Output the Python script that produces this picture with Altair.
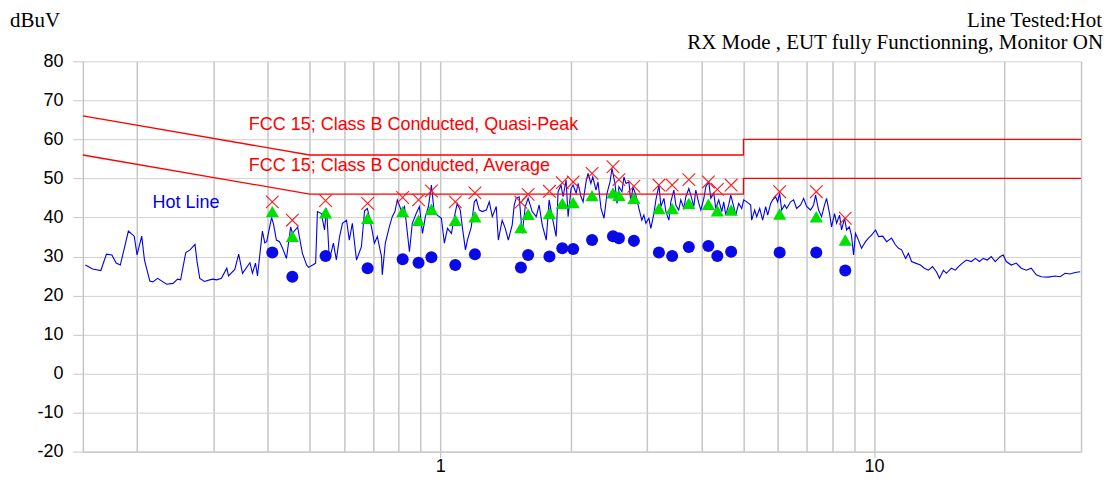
import altair as alt
import pandas as pd

SANS = "Liberation Sans"
SERIF = "Liberation Serif"

# ---- Measured trace (MHz, dBuV) ----
trace_freq = [
    0.152, 0.158, 0.165, 0.170, 0.175, 0.179, 0.183, 0.191, 0.197, 0.200,
    0.205, 0.208, 0.214, 0.2175, 0.223, 0.234, 0.242, 0.248, 0.252, 0.259,
    0.265, 0.272, 0.275, 0.279, 0.286, 0.294, 0.299, 0.305, 0.313, 0.322,
    0.325, 0.336, 0.343, 0.350, 0.364, 0.369, 0.375, 0.379, 0.389, 0.394,
    0.398, 0.4085, 0.413, 0.419, 0.426, 0.433, 0.442, 0.452, 0.456, 0.469,
    0.481, 0.492, 0.497, 0.508, 0.516, 0.521, 0.532, 0.541, 0.547, 0.555,
    0.567, 0.576, 0.586, 0.595, 0.608, 0.617, 0.627, 0.641, 0.658, 0.669,
    0.679, 0.694, 0.705, 0.716, 0.732, 0.735, 0.747, 0.763, 0.775, 0.786,
    0.796, 0.815, 0.827, 0.840, 0.849, 0.862, 0.880, 0.895, 0.910, 0.924,
    0.939, 0.954, 0.969, 0.984, 1.006, 1.022, 1.039, 1.061, 1.078, 1.094,
    1.112, 1.124, 1.143, 1.155, 1.179, 1.198, 1.211, 1.230, 1.250, 1.277,
    1.297, 1.318, 1.346, 1.361, 1.389, 1.412, 1.435, 1.465, 1.481, 1.496,
    1.520, 1.545, 1.570, 1.594, 1.629, 1.664, 1.690, 1.718, 1.755, 1.782,
    1.811, 1.850, 1.869, 1.898, 1.919, 1.950, 1.971, 2.002, 2.024, 2.057,
    2.078, 2.111, 2.134, 2.168, 2.191, 2.224, 2.247, 2.285, 2.310, 2.347,
    2.385, 2.423, 2.462, 2.488, 2.528, 2.555, 2.581, 2.623, 2.651, 2.679,
    2.722, 2.751, 2.780, 2.824, 2.870, 2.915, 2.947, 2.978, 3.026, 3.058,
    3.107, 3.141, 3.192, 3.226, 3.278, 3.312, 3.365, 3.400, 3.455, 3.491,
    3.545, 3.585, 3.643, 3.682, 3.741, 3.780, 3.841, 3.882, 3.945, 3.987,
    4.051, 4.094, 4.159, 4.202, 4.270, 4.316, 4.384, 4.455, 4.502, 4.550,
    4.622, 4.673, 4.748, 4.798, 4.874, 4.953, 5.006, 5.086, 5.195, 5.222,
    5.306, 5.363, 5.449, 5.535, 5.624, 5.685, 5.776, 5.838, 5.931, 5.994,
    6.058, 6.123, 6.220, 6.287, 6.421, 6.524, 6.629, 6.771, 6.881, 6.990,
    7.138, 7.254, 7.331, 7.448, 7.568, 7.688, 7.771, 7.896, 7.979, 8.109,
    8.196, 8.326, 8.414, 8.550, 8.641, 8.768, 8.867, 8.967, 9.062, 9.205,
    9.355, 9.555, 9.705, 9.863, 10.08, 10.24, 10.47, 10.69, 10.97, 11.20,
    11.39, 11.57, 11.82, 12.00, 12.20, 12.46, 12.79, 13.06, 13.35, 13.64,
    13.92, 14.15, 14.45, 14.68, 15.07, 15.40, 15.65, 15.98, 16.32, 16.76,
    17.12, 17.49, 17.86, 18.24, 18.63, 19.02, 19.54, 19.85, 20.17, 20.72,
    21.27, 21.84, 22.43, 23.03, 23.65, 24.28, 25.20, 26.13, 26.85, 27.56,
    28.30, 29.06, 29.86,
]
trace_level = [
    27.8, 26.8, 26.4, 30.6, 30.4, 28.3, 27.8, 36.5, 35.2, 30.4,
    35.2, 29.1, 23.7, 23.5, 24.4, 22.9, 23.1, 24.2, 24.0, 31.0,
    31.7, 33.1, 28.7, 24.4, 23.6, 24.0, 24.2, 24.0, 24.4, 27.0,
    25.0, 26.7, 30.6, 25.7, 28.4, 25.7, 28.3, 25.0, 36.5, 33.5,
    33.8, 40.0, 38.1, 34.2, 33.8, 32.1, 29.5, 37.6, 35.9, 37.5,
    30.8, 27.8, 27.2, 27.8, 28.3, 41.5, 41.0, 36.8, 42.3, 29.1,
    33.4, 29.1, 35.1, 38.5, 39.3, 34.2, 38.5, 29.1, 32.5, 41.7,
    42.3, 37.6, 33.4, 35.1, 30.0, 25.3, 33.4, 37.6, 40.2, 41.5,
    44.5, 41.5, 42.8, 35.9, 31.2, 38.5, 41.0, 42.8, 35.9, 40.2,
    42.8, 48.3, 41.0, 40.6, 39.8, 33.4, 37.2, 35.9, 40.2, 43.6,
    41.9, 37.6, 31.7, 34.2, 37.6, 44.0, 44.6, 41.9, 41.5, 41.9,
    44.0, 40.2, 42.8, 34.2, 39.3, 37.2, 34.2, 38.1, 43.2, 44.9,
    45.3, 35.9, 42.8, 44.9, 41.5, 40.2, 43.2, 38.1, 34.2, 44.5,
    40.2, 35.1, 46.6, 48.3, 45.3, 49.6, 40.2, 47.4, 48.3, 46.2,
    48.7, 45.3, 44.0, 49.1, 51.3, 48.7, 50.4, 47.0, 49.1, 42.3,
    39.8, 46.2, 49.1, 52.6, 48.7, 43.6, 47.9, 46.6, 50.4, 48.7,
    49.1, 43.6, 47.9, 45.7, 42.3, 39.3, 40.6, 38.5, 39.8, 37.2,
    41.0, 44.5, 48.3, 42.8, 44.9, 41.5, 39.3, 44.0, 47.0, 43.2,
    41.9, 44.5, 42.3, 45.3, 47.4, 45.7, 42.8, 47.0, 43.6, 41.9,
    44.9, 47.9, 49.1, 44.9, 46.2, 42.3, 44.5, 41.5, 44.0, 40.6,
    43.2, 45.7, 42.8, 40.6, 43.6, 42.3, 44.5, 44.0, 43.2, 39.3,
    41.9, 40.2, 42.3, 39.3, 42.8, 40.6, 43.6, 44.5, 45.3, 44.0,
    46.2, 41.9, 43.2, 42.3, 44.0, 44.5, 42.3, 43.2, 44.9, 42.8,
    41.9, 43.2, 45.7, 41.9, 40.2, 43.2, 44.9, 41.0, 37.6, 41.0,
    38.5, 40.6, 36.8, 39.8, 36.8, 37.6, 35.5, 30.4, 35.9, 34.2,
    32.1, 33.8, 34.7, 35.5, 36.8, 35.1, 35.2, 33.8, 34.7, 33.0,
    32.1, 31.7, 29.5, 30.8, 28.7, 28.3, 27.8, 27.0, 26.5, 27.4,
    26.1, 24.4, 26.5, 25.7, 27.0, 26.5, 27.4, 28.3, 29.1, 28.7,
    29.5, 28.7, 29.5, 29.1, 30.0, 28.7, 30.0, 30.4, 28.7, 27.8,
    28.3, 27.0, 26.5, 27.0, 25.3, 24.8, 24.7, 25.0, 24.8, 25.7,
    25.5, 25.9, 26.1,
]

# ---- Final measurement points ----
marker_freq = [0.410, 0.456, 0.544, 0.680, 0.819, 0.891, 0.954, 1.083, 1.202, 1.534,
               1.594, 1.785, 1.911, 2.025, 2.238, 2.501, 2.581, 2.795, 3.192, 3.424,
               3.741, 4.150, 4.352, 4.683, 6.058, 7.358, 8.582]
peak_level = [44.0, 39.3, 44.3, 43.6, 45.1, 44.5, 46.8, 44.0, 46.3, 43.9,
              45.9, 46.7, 48.9, 49.1, 51.3, 53.0, 49.7, 48.0, 48.3, 48.3,
              49.7, 49.1, 47.2, 48.3, 46.6, 46.6, 39.8]
qp_level = [41.5, 35.2, 41.2, 39.8, 41.5, 39.3, 42.1, 39.3, 40.2, 37.4,
            40.8, 41.0, 43.6, 43.8, 45.6, 46.3, 45.7, 44.9, 42.3, 42.3,
            43.6, 43.4, 41.7, 41.9, 40.9, 40.2, 34.2]
avg_level = [31.0, 24.8, 30.1, 27.0, 29.3, 28.4, 29.8, 27.8, 30.6, 27.2,
             30.4, 30.0, 32.1, 31.9, 34.2, 35.2, 34.7, 34.0, 31.0, 30.1,
             32.4, 32.7, 30.1, 31.2, 31.0, 31.0, 26.4]

# ---- Limit lines ----
limit_freq = [0.15, 0.5, 5.0, 5.0, 30.0]
qp_limit = [66, 56, 56, 60, 60]
av_limit = [56, 46, 46, 50, 50]

# ---- Annotations ----
ann_text = ["FCC 15; Class B Conducted, Quasi-Peak", "FCC 15; Class B Conducted, Average", "Hot Line"]
ann_freq = [0.362, 0.362, 0.2172]
ann_level = [62.5, 51.9, 42.3]
ann_color = ["#ff0000", "#ff0000", "#0000ee"]

unit_label = "dBuV"
header_lines = ["Line Tested:Hot", "RX Mode , EUT fully Functionning, Monitor ON"]

grid_values = [0.2, 0.3, 0.4, 0.5, 0.6, 0.7, 0.8, 0.9, 1, 2, 3, 4, 5, 6, 7, 8, 9, 10, 20, 30]
y_values = [-20, -10, 0, 10, 20, 30, 40, 50, 60, 70, 80]

df_trace = pd.DataFrame({"freq": trace_freq, "level": trace_level})
df_marks = pd.DataFrame({"freq": marker_freq, "peak": peak_level, "qp": qp_level, "avg": avg_level})
df_limit = pd.DataFrame({
    "freq": limit_freq + limit_freq,
    "level": qp_limit + av_limit,
    "limit": ["QP"] * len(limit_freq) + ["AV"] * len(limit_freq),
    "ord": list(range(len(limit_freq))) * 2,
})
df_ann = pd.DataFrame({"freq": ann_freq, "level": ann_level, "label": ann_text, "color": ann_color})

GRID = "#c6c6c6"

x_axis = alt.Axis(
    values=grid_values,
    labelExpr="datum.value == 1 ? '1' : (datum.value == 10 ? '10' : '')",
    labelOverlap=False,
    labelFont=SANS, labelFontSize=18, labelColor="#000000", labelPadding=0,
    tickSize=6,
    tickColor={"condition": {"test": "datum.value == 1 || datum.value == 10", "value": "#b8b8b8"},
               "value": "transparent"},
    gridColor=GRID, gridWidth=1.5,
    domainColor=GRID, domainWidth=1.5,
    title=None,
)
y_axis = alt.Axis(
    values=y_values,
    labelExpr="'' + datum.value",
    labelFont=SANS, labelFontSize=18, labelColor="#000000", labelPadding=10,
    tickSize=10, tickColor=GRID,
    gridColor="#d2d2d2", gridWidth=1,
    domainColor=GRID, domainWidth=1.5,
    title=None,
)

xs = alt.Scale(type="log", domain=[0.15, 30], nice=False)
ys = alt.Scale(domain=[-20, 80], nice=False, zero=False)


def X():
    return alt.X("freq:Q", scale=xs, axis=x_axis)


def Y(field):
    return alt.Y(f"{field}:Q", scale=ys, axis=y_axis)


trace = alt.Chart(df_trace).mark_line(color="#0000ee", strokeWidth=1.1, clip=True).encode(X(), Y("level"))

limits = alt.Chart(df_limit).mark_line(color="#ff0000", strokeWidth=1.3).encode(
    X(), Y("level"), detail="limit:N", order="ord:Q"
)

peaks = alt.Chart(df_marks).mark_point(
    shape="M-1,-1L1,1M-1,1L1,-1", size=160, color="#ff1a1a", strokeWidth=1.1, filled=False, opacity=1
).encode(X(), Y("peak"))

qps = alt.Chart(df_marks).mark_point(
    shape="triangle-up", size=175, filled=True, color="#00e000", opacity=1
).encode(X(), Y("qp"))

avgs = alt.Chart(df_marks).mark_circle(size=145, color="#0a0ae6", opacity=1).encode(X(), Y("avg"))

ann = alt.Chart(df_ann).mark_text(
    align="left", baseline="alphabetic", font=SANS, fontSize=18
).encode(X(), Y("level"), text="label:N", color=alt.Color("color:N", scale=None))

hdr_unit = alt.Chart(pd.DataFrame({"t": [unit_label]})).mark_text(
    align="left", baseline="alphabetic", font=SERIF, fontSize=21, color="#000000"
).encode(x=alt.value(-73), y=alt.value(-34), text="t:N")

hdr_1 = alt.Chart(pd.DataFrame({"t": [header_lines[0]]})).mark_text(
    align="right", baseline="alphabetic", font=SERIF, fontSize=21, color="#000000"
).encode(x=alt.value(1021), y=alt.value(-34), text="t:N")

hdr_2 = alt.Chart(pd.DataFrame({"t": [header_lines[1]]})).mark_text(
    align="right", baseline="alphabetic", font=SERIF, fontSize=21, color="#000000"
).encode(x=alt.value(1022), y=alt.value(-12), text="t:N")

chart = alt.layer(trace, limits, peaks, qps, avgs, ann, hdr_unit, hdr_1, hdr_2).properties(
    width=1000,
    height=391,
    autosize=alt.AutoSizeParams(type="none"),
    padding={"left": 75, "top": 53, "right": 30, "bottom": 30},
    background="#ffffff",
).configure_view(stroke=None)

chart.save("out.html", embed_options={"renderer": "svg", "actions": False})
